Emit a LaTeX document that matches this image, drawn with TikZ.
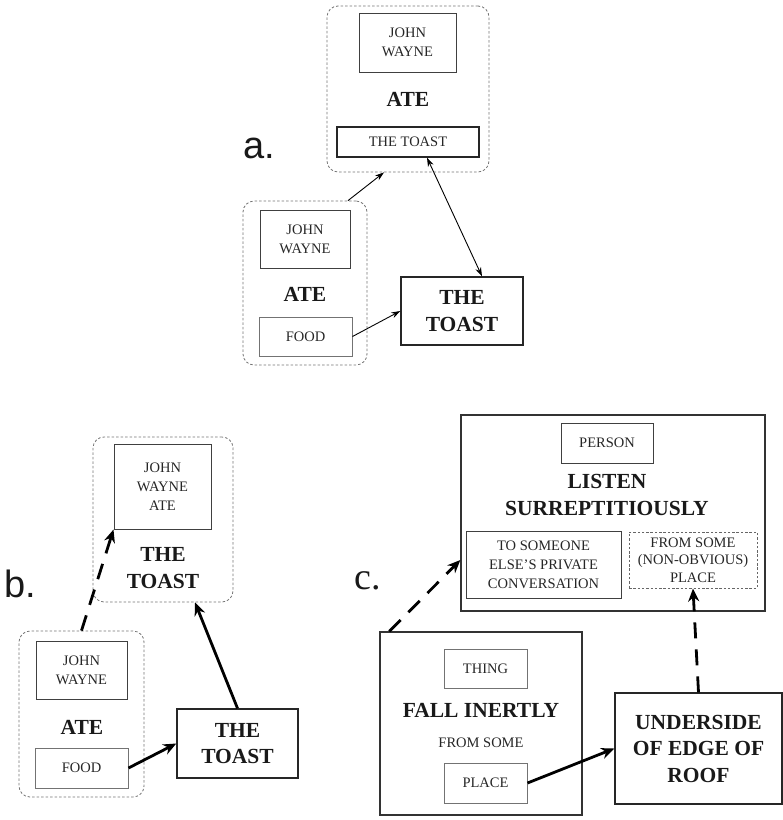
\documentclass[tikz,border=0pt]{standalone}
\usepackage{fontspec}
\setmainfont{Liberation Serif}
\newfontfamily\labelsans{Liberation Sans}
\usetikzlibrary{arrows.meta,calc}

\tikzset{
  smalltxt/.style={font=\fontsize{14.5}{19}\selectfont, text=black!85, align=center},
  bigtxt/.style={font=\fontsize{21.5}{26.5}\selectfont\bfseries, text=black!90, align=center},
  frame/.style={draw=black!75, line width=1pt, inner sep=0pt, smalltxt},
  lightframe/.style={frame, draw=black!55},
  heavyframe/.style={draw=black!85, line width=1.4pt, inner sep=0pt, bigtxt},
  dottedframe/.style={frame, draw=black!60, dash pattern=on 2.5pt off 1.8pt},
  group/.style={draw=black!55, line width=0.8pt, dash pattern=on 2.5pt off 2pt,
                rounded corners=11pt, inner sep=0pt},
  thinarrow/.style={line width=0.9pt, -{Stealth[length=9pt,width=6pt]}},
  twowayarrow/.style={line width=0.9pt, {Stealth[length=9pt,width=6pt]}-{Stealth[length=9pt,width=6pt]}},
  thickarrow/.style={line width=2.8pt, -{Stealth[length=13pt,width=11pt]}},
  dashedarrow/.style={thickarrow, dash pattern=on 16pt off 11pt},
  panellabel/.style={anchor=base, inner sep=0pt, text=black!90},
}

\begin{document}
\begin{tikzpicture}[x=1pt,y=-1pt]
\useasboundingbox (0,0) rectangle (783,820);

% ---------- a. ----------
\node[panellabel, font=\labelsans\fontsize{38}{38}\selectfont] (labA) at (259,158) {a.};

\node[group, minimum width=162pt, minimum height=166pt] (contA1) at (408,89) {};
\node[frame, minimum width=97pt, minimum height=59pt] (jwA1) at (407.5,42.5) {JOHN\\WAYNE};
\node[bigtxt] (ateA1) at (408,99) {ATE};
\node[frame, line width=1.3pt, draw=black!85, minimum width=142pt, minimum height=30pt] (toastA1) at (408,142) {THE TOAST};

\node[group, minimum width=124pt, minimum height=164pt] (contA2) at (305,283) {};
\node[frame, minimum width=90pt, minimum height=58pt] (jwA2) at (305,239) {JOHN\\WAYNE};
\node[bigtxt] (ateA2) at (305,294) {ATE};
\node[lightframe, minimum width=93pt, minimum height=39pt] (foodA) at (305.5,336.5) {FOOD};

\node[heavyframe, minimum width=122pt, minimum height=68pt] (toastA2) at (462,311) {THE\\TOAST};

\draw[thinarrow] ([xshift=43pt]contA2.north) -- ([xshift=-24pt]contA1.south);
\draw[twowayarrow] ([xshift=19pt]toastA1.south) -- ([xshift=20pt]toastA2.north);
\draw[thinarrow] (foodA.east) -- (toastA2.west);

% ---------- b. ----------
\node[panellabel, font=\labelsans\fontsize{38}{38}\selectfont] (labB) at (20,597) {b.};

\node[group, minimum width=140pt, minimum height=165pt] (contB1) at (163,519.5) {};
\node[frame, minimum width=97pt, minimum height=85pt] (jwaB) at (162.5,486.5) {JOHN\\WAYNE\\ATE};
\node[bigtxt] (toastB1) at (163,568) {THE\\TOAST};

\node[group, minimum width=125pt, minimum height=166pt] (contB2) at (81.5,714) {};
\node[frame, minimum width=91pt, minimum height=58pt] (jwB) at (81.5,670) {JOHN\\WAYNE};
\node[bigtxt] (ateB) at (82,727) {ATE};
\node[lightframe, minimum width=93pt, minimum height=40pt] (foodB) at (81.5,768) {FOOD};

\node[heavyframe, minimum width=121pt, minimum height=69pt] (toastB2) at (237.5,743.5) {THE\\TOAST};

\draw[dashedarrow] (contB2.north) -- (jwaB.south west);
\draw[thickarrow] (toastB2.north) -- ([xshift=32pt]contB1.south);
\draw[thickarrow] (foodB.east) -- (toastB2.west);

% ---------- c. ----------
\node[panellabel, font=\fontsize{38}{38}\selectfont] (labC) at (368,589) {c.};

\node[draw=black!80, line width=1.3pt, minimum width=304pt, minimum height=196pt, inner sep=0pt] (bigC) at (613,513) {};
\node[frame, minimum width=92pt, minimum height=40pt] (personC) at (607,443) {PERSON};
\node[bigtxt] (listenC) at (607,495) {LISTEN\\SURREPTITIOUSLY};
\node[frame, minimum width=155pt, minimum height=67pt] (someoneC) at (543.5,564.5) {TO SOMEONE\\ELSE'S PRIVATE\\CONVERSATION};
\node[dottedframe, minimum width=128pt, minimum height=56pt, font=\fontsize{14.5}{17.5}\selectfont] (fromC) at (693,560) {FROM SOME\\(NON-OBVIOUS)\\PLACE};

\node[draw=black!80, line width=1.3pt, minimum width=202pt, minimum height=183pt, inner sep=0pt] (fallC) at (481,723.5) {};
\node[lightframe, minimum width=83pt, minimum height=39pt] (thingC) at (485.5,668.5) {THING};
\node[bigtxt] (fallText) at (481,710) {FALL INERTLY};
\node[smalltxt] (fromSome) at (481,743) {FROM SOME};
\node[lightframe, minimum width=83pt, minimum height=40pt] (placeC) at (485.5,783) {PLACE};

\node[heavyframe, minimum width=167pt, minimum height=111pt] (undersideC) at (698.5,748.5) {UNDERSIDE\\OF EDGE OF\\ROOF};

\draw[dashedarrow] ([xshift=10pt]fallC.north west) -- ([yshift=-47pt]bigC.west);
\draw[dashedarrow] (undersideC.north) -- (fromC.south);
\draw[thickarrow] (placeC.east) -- (undersideC.west);
\end{tikzpicture}
\end{document}
